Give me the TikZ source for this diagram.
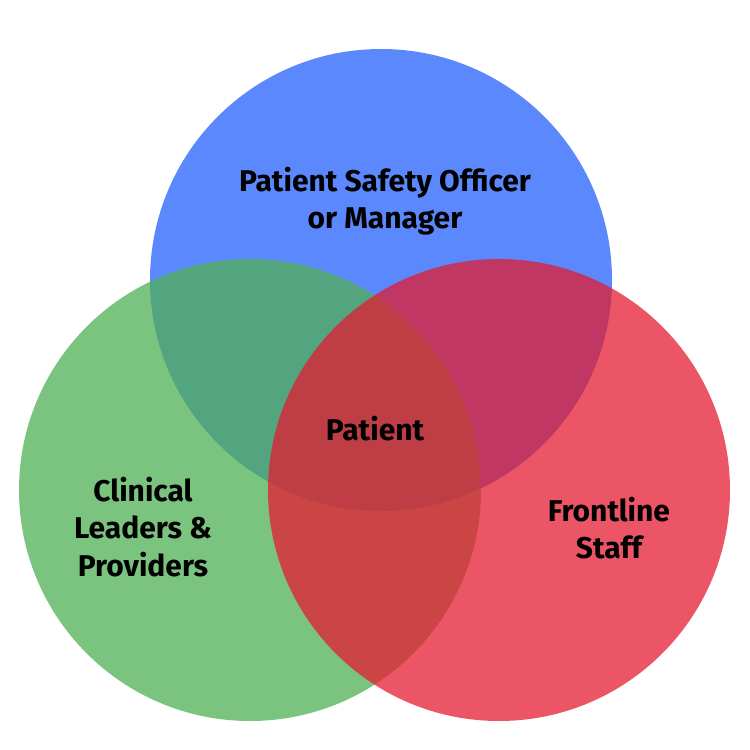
\documentclass[tikz,border=0pt]{standalone}
\usepackage{fontspec}
\setmainfont{Fira Sans}
\usetikzlibrary{positioning}
\definecolor{officerfill}{RGB}{91,136,252}
\definecolor{clinicalfill}{RGB}{79,176,84}
\definecolor{frontlinefill}{RGB}{228,28,50}
\tikzset{
  every node/.style={text=black},
  venn/.style={circle, draw=none, inner sep=0pt, minimum size=462pt},
  setlabel/.style={font=\fontsize{30}{37.5}\selectfont\bfseries, align=center,
    inner sep=0pt},
}
\begin{document}
\begin{tikzpicture}[x=1pt,y=-1pt]
\useasboundingbox (0,0) rectangle (750,750);

% ---- Sets ----------------------------------------------------------------
\node[venn, fill=officerfill] (officerset) at (381,280) {};
\node[venn, fill=clinicalfill, fill opacity=0.75] (clinicalset) at (250,490) {};
\node[venn, fill=frontlinefill, fill opacity=0.75] (frontlineset) at (499,490) {};

% ---- Labels --------------------------------------------------------------
\node[setlabel] (officer) at (385,201) {Patient Safety Officer\\or Manager};
\node[setlabel] (clinical) at (143,527) {Clinical\\Leaders \&\\Providers};
\node[setlabel] (frontline) at (609,528) {Frontline\\Staff};
\node[setlabel] (patient) at (375,429) {Patient};

\end{tikzpicture}
\end{document}
